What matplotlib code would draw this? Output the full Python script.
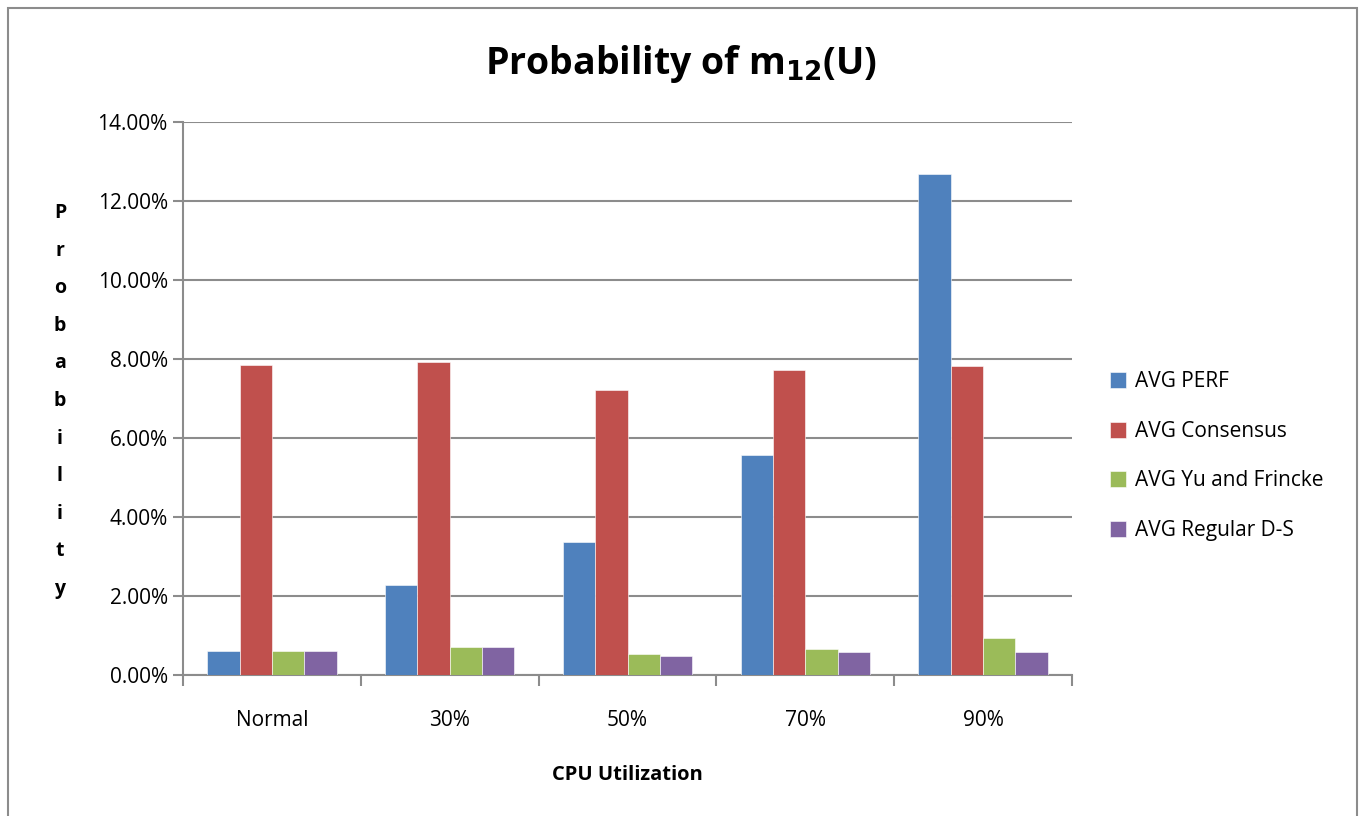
import matplotlib.pyplot as plt
import numpy as np
from matplotlib.patches import Rectangle
from matplotlib.ticker import FuncFormatter

# Data (fractions)
categories = ['Normal', '30%', '50%', '70%', '90%']
series_names = ['AVG PERF', 'AVG Consensus', 'AVG Yu and Frincke', 'AVG Regular D-S']
avg_perf = [0.0062, 0.0228, 0.0336, 0.0556, 0.1268]
avg_consensus = [0.0786, 0.0792, 0.0721, 0.0771, 0.0782]
avg_yu = [0.0062, 0.0072, 0.0052, 0.0067, 0.0093]
avg_ds = [0.0062, 0.0072, 0.0047, 0.0058, 0.0058]
yticks = [0, 0.02, 0.04, 0.06, 0.08, 0.10, 0.12, 0.14]

colors = ['#4F81BD', '#C0504D', '#9BBB59', '#8064A2']
grey = '#8C8C8C'

plt.rcParams['font.family'] = ['Open Sans', 'DejaVu Sans']

fig = plt.figure(figsize=(13.62, 8.16), dpi=100)
ax = fig.add_axes([0.1344, 0.1728, 0.6527, 0.6777])

# Excel style clustered bars: gap width 150%
w = 1 / 5.5
x = np.arange(len(categories))
data = [avg_perf, avg_consensus, avg_yu, avg_ds]
for i, (vals, name) in enumerate(zip(data, series_names)):
    ax.bar(x + (i - 1.5) * w, vals, width=w, color=colors[i], label=name,
           edgecolor='white', linewidth=0.4, zorder=3)

ax.set_xlim(-0.5, len(categories) - 0.5)
ax.set_ylim(0, 0.14)
ax.set_yticks(yticks)
ax.yaxis.set_major_formatter(FuncFormatter(lambda v, p: '%.2f%%' % (v * 100)))
ax.yaxis.grid(True, color=grey, linewidth=1.5, zorder=0)

ax.set_xticks(x)
ax.set_xticklabels(categories)
ax.set_xticks(np.arange(len(categories) + 1) - 0.5, minor=True)
ax.tick_params(axis='x', which='major', length=0, pad=25, labelsize=15)
ax.tick_params(axis='x', which='minor', length=8, width=1.5, color=grey, direction='out')
ax.tick_params(axis='y', length=7, width=1.5, color=grey, labelsize=15, pad=4)

for s in ['top', 'right']:
    ax.spines[s].set_visible(False)
for s in ['left', 'bottom']:
    ax.spines[s].set_color(grey)
    ax.spines[s].set_linewidth(1.5)

ax.set_xlabel('CPU Utilization', fontsize=14.5, fontweight='bold', labelpad=25)

fig.text(0.5, 0.922, r'Probability of m$_{\mathbf{12}}$(U)', ha='center', va='center',
         fontsize=27, fontweight='bold')

# vertical stacked y label
fig.text(0.044, 0.5086, '\n'.join('Probability'), ha='center', va='center',
         fontsize=14, fontweight='bold', linespacing=2.17)

leg = ax.legend(loc='center left', bbox_to_anchor=(0.801, 0.441), bbox_transform=fig.transFigure,
                frameon=False, fontsize=15, labelspacing=1.37, handlelength=0.8,
                handleheight=0.8, handletextpad=0.4)

# outer chart frame
fig.patches.append(Rectangle((8 / 1362, -0.05), (1357 - 8) / 1362, 1 - 8 / 816 + 0.05,
                             transform=fig.transFigure, fill=False, edgecolor=grey,
                             linewidth=1.5))

fig.savefig('out.png', dpi=100)
